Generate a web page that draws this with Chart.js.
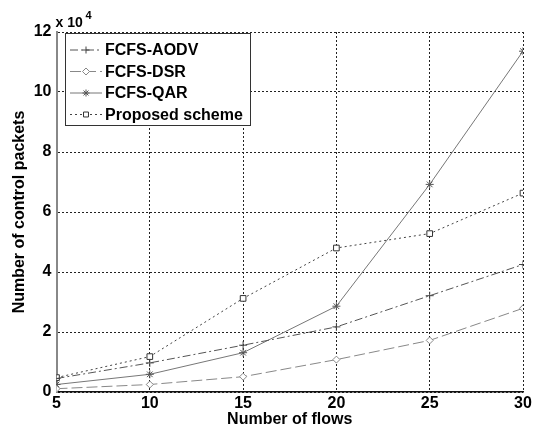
<!DOCTYPE html>
<html lang="en">
<head>
    <meta charset="UTF-8">
    <script src="https://cdn.jsdelivr.net/npm/chart.js"></script>
    <title>Number of control packets</title>
    <style>
        body { margin: 0; background: #fff; }
    </style>
</head>
<body>
    <canvas id="myChart" width="542" height="431"></canvas>
    <script>
        // number of flows
        const flows = [5, 10, 15, 20, 25, 30];
        // control packets per scheme
        const aodv = [4500, 9700, 15600, 21700, 32100, 42500];
        const dsr = [1100, 2500, 5100, 10800, 17200, 27900];
        const qar = [2500, 5900, 13100, 28600, 69200, 113600];
        const proposed = [4800, 11800, 31200, 48000, 52800, 66300];
        const yTicks = [0, 20000, 40000, 60000, 80000, 100000, 120000];

        const fontFam = "'Liberation Sans', Arial, Helvetica, sans-serif";

        const toXY = vals => vals.map((v, i) => ({x: flows[i], y: v}));

        const extras = {
            id: 'extras',
            afterDraw(chart) {
                const ctx = chart.ctx;
                const area = chart.chartArea;
                ctx.save();
                // exponent label
                ctx.fillStyle = '#000';
                ctx.textBaseline = 'alphabetic';
                ctx.font = 'bold 14px ' + fontFam;
                ctx.fillText('x 10', area.left - 1, 27);
                ctx.font = 'bold 11px ' + fontFam;
                ctx.fillText('4', area.left + 29, 19);

                // legend box
                const bx = 65, by = 33, bw = 185, bh = 92;
                ctx.fillStyle = '#fff';
                ctx.fillRect(bx, by, bw, bh);
                ctx.strokeStyle = '#333';
                ctx.lineWidth = 1;
                ctx.strokeRect(bx + 0.5, by + 0.5, bw, bh);

                const rows = [50, 71.5, 93, 114.5];
                chart.data.datasets.forEach((ds, i) => {
                    const y = rows[i];
                    ctx.save();
                    ctx.strokeStyle = ds.borderColor;
                    ctx.lineWidth = ds.borderWidth;
                    ctx.setLineDash(ds.borderDash || []);
                    ctx.beginPath();
                    ctx.moveTo(70, y);
                    ctx.lineTo(102, y);
                    ctx.stroke();
                    ctx.setLineDash([]);
                    ctx.fillStyle = '#fff';
                    ctx.strokeStyle = ds.pointBorderColor;
                    ctx.lineWidth = 1;
                    Chart.helpers.drawPoint(ctx, {pointStyle: ds.pointStyle, radius: 3.5, borderWidth: 1}, 86, y);
                    ctx.restore();
                    ctx.fillStyle = '#000';
                    ctx.font = 'bold 16px ' + fontFam;
                    ctx.textBaseline = 'middle';
                    ctx.fillText(ds.label, 105, y + 1);
                });
                ctx.restore();
            }
        };

        const ctx = document.getElementById('myChart').getContext('2d');
        new Chart(ctx, {
            type: 'line',
            data: {
                datasets: [{
                    label: 'FCFS-AODV',
                    data: toXY(aodv),
                    borderColor: '#555',
                    borderWidth: 1,
                    borderDash: [8, 3, 2, 3],
                    pointStyle: 'cross',
                    pointRadius: 4,
                    pointBorderColor: '#444',
                    pointBackgroundColor: '#fff'
                }, {
                    label: 'FCFS-DSR',
                    data: toXY(dsr),
                    borderColor: '#888',
                    borderWidth: 1,
                    borderDash: [11, 4],
                    pointStyle: 'rectRot',
                    pointRadius: 3.5,
                    pointBorderColor: '#888',
                    pointBackgroundColor: '#fff'
                }, {
                    label: 'FCFS-QAR',
                    data: toXY(qar),
                    borderColor: '#777',
                    borderWidth: 1,
                    pointStyle: 'star',
                    pointRadius: 4,
                    pointBorderColor: '#555',
                    pointBackgroundColor: '#fff'
                }, {
                    label: 'Proposed scheme',
                    data: toXY(proposed),
                    borderColor: '#444',
                    borderWidth: 1,
                    borderDash: [2, 3],
                    pointStyle: 'rect',
                    pointRadius: 4,
                    pointBorderColor: '#333',
                    pointBackgroundColor: '#fff'
                }]
            },
            options: {
                responsive: false,
                animation: false,
                layout: { padding: { top: 32, right: 19, left: 0, bottom: 0 } },
                plugins: {
                    legend: { display: false },
                    tooltip: { enabled: false }
                },
                scales: {
                    x: {
                        type: 'linear',
                        min: 5,
                        max: 30,
                        afterFit(s) { s.height = 39; },
                        afterBuildTicks(s) { s.ticks = flows.map(v => ({value: v})); },
                        ticks: {
                            color: '#000',
                            padding: 2,
                            font: { family: fontFam, size: 16, weight: 'bold' }
                        },
                        grid: { color: '#222', drawTicks: false },
                        border: { display: true, color: '#111', width: 1.5, dash: [2, 2] },
                        title: {
                            display: true,
                            text: 'Number of flows',
                            color: '#000',
                            padding: { top: 0, bottom: 1.5 },
                            font: { family: fontFam, size: 16, weight: 'bold' }
                        }
                    },
                    y: {
                        min: 0,
                        max: 120000,
                        afterFit(s) { s.width = 56.5; },
                        afterBuildTicks(s) { s.ticks = yTicks.map(v => ({value: v})); },
                        ticks: {
                            color: '#000',
                            padding: 5,
                            callback: v => v / 10000,
                            font: { family: fontFam, size: 16, weight: 'bold' }
                        },
                        grid: { color: '#222', drawTicks: false },
                        border: { display: true, color: '#888', width: 2, dash: [2, 2] },
                        title: {
                            display: true,
                            text: 'Number of control packets',
                            color: '#000',
                            padding: { top: 10.4, bottom: 0 },
                            font: { family: fontFam, size: 16, weight: 'bold' }
                        }
                    }
                }
            },
            plugins: [extras]
        });
    </script>
</body>
</html>
